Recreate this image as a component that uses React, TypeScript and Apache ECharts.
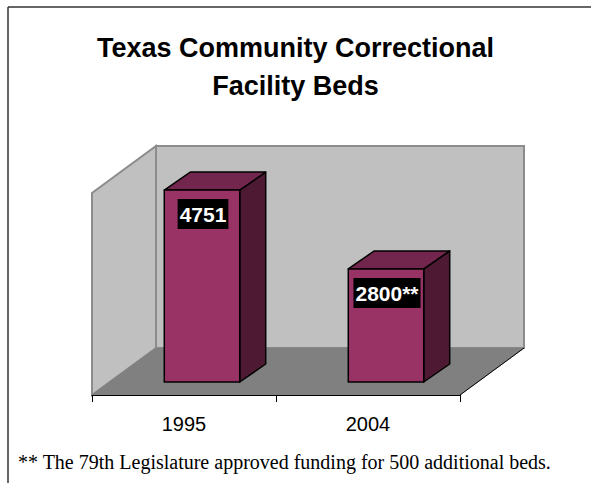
import React, { useEffect, useRef } from "react";
import * as echarts from "echarts";

const years = ["1995", "2004"];
const beds = [4751, 2800];
const barLabels = ["4751", "2800**"];
const yMin = 0;
const yMax = 5000;
const titleText = "Texas Community Correctional\nFacility Beds";
const footnote = "** The 79th Legislature approved funding for 500 additional beds.";

// 3D styling constants (pixels)
const DEPTH_X = 64;
const DEPTH_Y = -47;
const BAR_FRONT_X = 18;
const BAR_FRONT_Y = -13;
const BAR_DEPTH_X = 26;
const BAR_DEPTH_Y = -18;
const BAR_WIDTH_RATIO = 0.41;

export default function App() {
  const ref = useRef<HTMLDivElement>(null);
  useEffect(() => {
    if (!ref.current) return;
    const chart = echarts.init(ref.current, null, { renderer: "svg" });
    const option: any = {
      animation: false,
      backgroundColor: "#ffffff",
      title: {
        text: titleText,
        left: "center",
        top: 24,
        textStyle: {
          fontFamily: "Liberation Sans, Arial, sans-serif",
          fontWeight: "bold",
          fontSize: 27,
          lineHeight: 38,
          color: "#000000",
        },
      },
      grid: { left: 92, top: 193, width: 368, height: 202 },
      xAxis: {
        type: "category",
        data: years,
        boundaryGap: true,
        axisLine: { show: true, lineStyle: { color: "#000000", width: 1 } },
        axisTick: { show: true, length: 7, lineStyle: { color: "#000000", width: 1 } },
        axisLabel: {
          fontFamily: "Liberation Sans, Arial, sans-serif",
          fontSize: 20,
          color: "#000000",
          margin: 19,
        },
        splitLine: { show: false },
        z: 10,
      },
      yAxis: {
        type: "value",
        min: yMin,
        max: yMax,
        show: false,
        splitLine: { show: false },
      },
      graphic: [
        {
          type: "line",
          shape: { x1: 8, y1: 7, x2: 591, y2: 7 },
          style: { stroke: "#333333", lineWidth: 1.5 },
        },
        {
          type: "line",
          shape: { x1: 8, y1: 7, x2: 8, y2: 483 },
          style: { stroke: "#333333", lineWidth: 1.5 },
        },
        {
          type: "text",
          left: 18,
          top: 452,
          style: {
            text: footnote,
            font: "20px 'Liberation Serif', 'Times New Roman', serif",
            fill: "#000000",
          },
        },
      ],
      series: [
        {
          type: "custom",
          name: "walls",
          z: 1,
          silent: true,
          data: [[0, 0]],
          renderItem: (params: any) => {
            const cs = params.coordSys;
            const x = cs.x, y = cs.y, w = cs.width, h = cs.height;
            return {
              type: "group",
              children: [
                {
                  type: "polygon",
                  shape: {
                    points: [
                      [x + DEPTH_X, y + DEPTH_Y],
                      [x + w + DEPTH_X, y + DEPTH_Y],
                      [x + w + DEPTH_X, y + h + DEPTH_Y],
                      [x + DEPTH_X, y + h + DEPTH_Y],
                    ],
                  },
                  style: { fill: "#c0c0c0", stroke: "#8c8c8c", lineWidth: 2 },
                },
                {
                  type: "polygon",
                  shape: {
                    points: [
                      [x, y + h],
                      [x, y],
                      [x + DEPTH_X, y + DEPTH_Y],
                      [x + DEPTH_X, y + h + DEPTH_Y],
                    ],
                  },
                  style: { fill: "#c0c0c0", stroke: "#8c8c8c", lineWidth: 2 },
                },
                {
                  type: "polygon",
                  shape: {
                    points: [
                      [x, y + h],
                      [x + DEPTH_X, y + h + DEPTH_Y],
                      [x + w + DEPTH_X, y + h + DEPTH_Y],
                      [x + w, y + h],
                    ],
                  },
                  style: { fill: "#808080", stroke: "#808080", lineWidth: 1 },
                },
                {
                  type: "line",
                  shape: { x1: x + w, y1: y + h, x2: x + w + DEPTH_X, y2: y + h + DEPTH_Y },
                  style: { stroke: "#000000", lineWidth: 1 },
                },
              ],
            };
          },
        },
        {
          type: "custom",
          name: "beds",
          z: 5,
          data: years.map((_, i) => [i, beds[i]]),
          renderItem: (params: any, api: any) => {
            const i = api.value(0);
            const v = api.value(1);
            const top = api.coord([i, v]);
            const base = api.coord([i, 0]);
            const band = api.size([1, 0])[0];
            const bw = band * BAR_WIDTH_RATIO;
            const x0 = top[0] - bw / 2 + BAR_FRONT_X;
            const x1 = x0 + bw;
            const yT = top[1] + BAR_FRONT_Y;
            const yB = base[1] + BAR_FRONT_Y;
            const edge = { stroke: "#000000", lineWidth: 1.5, lineJoin: "round" };
            return {
              type: "group",
              children: [
                {
                  type: "polygon",
                  shape: {
                    points: [
                      [x1, yT],
                      [x1 + BAR_DEPTH_X, yT + BAR_DEPTH_Y],
                      [x1 + BAR_DEPTH_X, yB + BAR_DEPTH_Y],
                      [x1, yB],
                    ],
                  },
                  style: { fill: "#4d1933", ...edge },
                },
                {
                  type: "polygon",
                  shape: {
                    points: [
                      [x0, yT],
                      [x0 + BAR_DEPTH_X, yT + BAR_DEPTH_Y],
                      [x1 + BAR_DEPTH_X, yT + BAR_DEPTH_Y],
                      [x1, yT],
                    ],
                  },
                  style: { fill: "#73264d", ...edge },
                },
                {
                  type: "polygon",
                  shape: {
                    points: [
                      [x0, yT],
                      [x1, yT],
                      [x1, yB],
                      [x0, yB],
                    ],
                  },
                  style: { fill: "#993366", ...edge },
                },
                {
                  type: "text",
                  x: (x0 + x1) / 2 + 1,
                  y: yT + 9,
                  style: {
                    text: barLabels[params.dataIndex],
                    fill: "#ffffff",
                    font: "bold 21px 'Liberation Sans', Arial, sans-serif",
                    align: "center",
                    verticalAlign: "top",
                    backgroundColor: "#000000",
                    padding: [5, 2, 4, 2],
                  },
                },
              ],
            };
          },
        },
      ],
    };
    chart.setOption(option);
    return () => chart.dispose();
  }, []);
  return (
    <div
      ref={ref}
      style={{ position: "fixed", left: 0, top: 0, width: 591, height: 483 }}
    />
  );
}
